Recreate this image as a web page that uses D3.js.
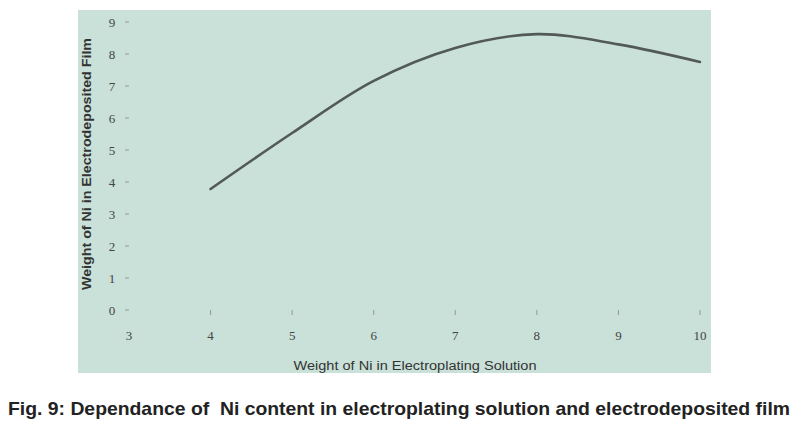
<!DOCTYPE html>
<html>
<head>
<meta charset="utf-8">
<script src="https://cdn.jsdelivr.net/npm/d3@7"></script>
<style>
  body { margin: 0; background: #fff; }
  svg { display: block; }
</style>
</head>
<body>
<div id="plot"></div>
<script>
// Data
var niSolution = [4, 5, 6, 7, 8, 9, 10];
var niFilm = [3.78, 5.53, 7.16, 8.19, 8.62, 8.30, 7.75];
var xTicks = [3, 4, 5, 6, 7, 8, 9, 10];
var yTicks = [0, 1, 2, 3, 4, 5, 6, 7, 8, 9];

var svgWidth = 801;
var svgHeight = 430;

var svg = d3.select("#plot")
  .append("svg")
  .attr("width", svgWidth)
  .attr("height", svgHeight);

// chart panel background
svg.append("rect")
  .attr("x", 78)
  .attr("y", 10)
  .attr("width", 633)
  .attr("height", 363)
  .attr("fill", "#c9e1d8");

// scales
var xScale = d3.scaleLinear()
  .domain([3, 10])
  .range([129, 700]);

var yScale = d3.scaleLinear()
  .domain([0, 9])
  .range([310, 22]);

// y tick labels and little dashes
var yGroup = svg.append("g");
yGroup.selectAll("text")
  .data(yTicks)
  .enter()
  .append("text")
  .attr("x", 112)
  .attr("y", d => yScale(d))
  .attr("dy", "0.35em")
  .attr("text-anchor", "middle")
  .attr("font-family", "Liberation Serif, serif")
  .attr("font-size", 13)
  .attr("fill", "#444")
  .text(d => d);

yGroup.selectAll("line")
  .data(yTicks)
  .enter()
  .append("line")
  .attr("x1", 125)
  .attr("x2", 129)
  .attr("y1", d => yScale(d))
  .attr("y2", d => yScale(d))
  .attr("stroke", "#8e9c97")
  .attr("stroke-width", 1);

// x tick labels and marks
var xGroup = svg.append("g");
xGroup.selectAll("text")
  .data(xTicks)
  .enter()
  .append("text")
  .attr("x", d => xScale(d))
  .attr("y", 340)
  .attr("text-anchor", "middle")
  .attr("font-family", "Liberation Serif, serif")
  .attr("font-size", 13)
  .attr("fill", "#444")
  .text(d => d);

xGroup.selectAll("line")
  .data(xTicks.filter(d => d > 3))
  .enter()
  .append("line")
  .attr("x1", d => xScale(d))
  .attr("x2", d => xScale(d))
  .attr("y1", 310)
  .attr("y2", 315)
  .attr("stroke", "#8e9c97")
  .attr("stroke-width", 1);

// the smoothed line
var drawLine = d3.line()
  .x((d, i) => xScale(niSolution[i]))
  .y(d => yScale(d))
  .curve(d3.curveCatmullRom.alpha(0.5));

svg.append("path")
  .attr("d", drawLine(niFilm))
  .attr("fill", "none")
  .attr("stroke", "#525957")
  .attr("stroke-width", 2.6)
  .attr("stroke-linecap", "round");

// axis titles
svg.append("text")
  .attr("transform", "translate(91, 164) rotate(-90)")
  .attr("text-anchor", "middle")
  .attr("font-family", "Liberation Sans, Arial, sans-serif")
  .attr("font-weight", "bold")
  .attr("font-size", 12)
  .attr("fill", "#333")
  .attr("textLength", 252)
  .attr("lengthAdjust", "spacingAndGlyphs")
  .text("Weight of Ni in Electrodeposited Film");

svg.append("text")
  .attr("x", 415)
  .attr("y", 370)
  .attr("text-anchor", "middle")
  .attr("font-family", "Liberation Sans, Arial, sans-serif")
  .attr("font-size", 12)
  .attr("fill", "#333")
  .attr("textLength", 243)
  .attr("lengthAdjust", "spacingAndGlyphs")
  .text("Weight of Ni in Electroplating Solution");

// caption
svg.append("text")
  .attr("x", 8)
  .attr("y", 415)
  .attr("font-family", "Liberation Sans Narrow, Liberation Sans, Arial, sans-serif")
  .attr("font-weight", "bold")
  .attr("font-size", 18.5)
  .attr("fill", "#222")
  .attr("textLength", 782)
  .attr("lengthAdjust", "spacingAndGlyphs")
  .style("white-space", "pre")
  .text("Fig. 9: Dependance of  Ni content in electroplating solution and electrodeposited film");
</script>
</body>
</html>
